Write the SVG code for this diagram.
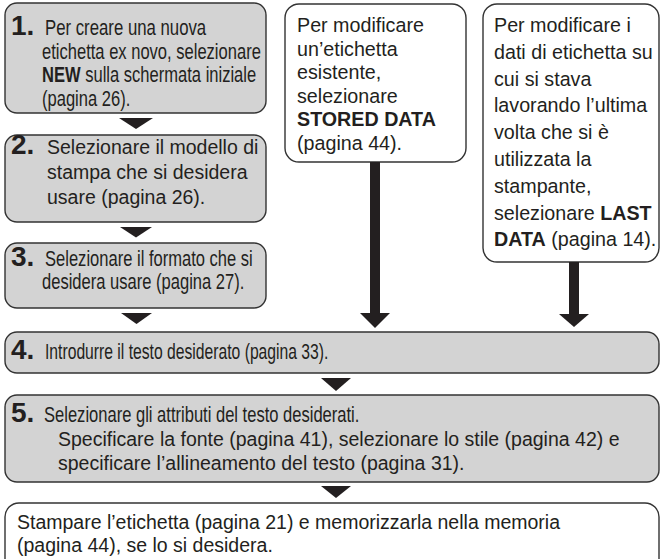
<svg xmlns="http://www.w3.org/2000/svg" width="661" height="559" viewBox="0 0 661 559">
<style>
.g{fill:#d3d3d3;stroke:#333;stroke-width:1.4}
.w{fill:#fff;stroke:#333;stroke-width:1.4}
text{font-family:"Liberation Sans",Arial,sans-serif;fill:#231f20}
.n{font-size:28px;font-weight:bold}
.c{font-size:21.5px}
.r{font-size:19.5px}
.t{font-size:19.7px}
.b{font-weight:bold}
.a{fill:#231f20}
</style>
<g id="step1">
<rect class="g" x="5" y="3" width="261" height="110" rx="12"/>
<text class="n" x="11" y="35">1.</text>
<text class="c" transform="translate(45,35) scale(0.78,1)">Per creare una nuova</text>
<text class="c" transform="translate(42,58.5) scale(0.77,1)">etichetta ex novo, selezionare</text>
<text class="c" transform="translate(42,82) scale(0.77,1)"><tspan class="b">NEW</tspan> sulla schermata iniziale</text>
<text class="c" transform="translate(42,105.5) scale(0.77,1)">(pagina 26).</text>
</g>
<g id="step2">
<rect class="g" x="5" y="135" width="261" height="87" rx="12"/>
<text class="n" x="11" y="154">2.</text>
<text class="r" x="47" y="154">Selezionare il modello di</text>
<text class="r" x="47" y="179">stampa che si desidera</text>
<text class="r" x="47" y="204">usare (pagina 26).</text>
</g>
<g id="step3">
<rect class="g" x="5" y="243" width="261" height="65" rx="12"/>
<text class="n" x="11" y="266">3.</text>
<text class="c" transform="translate(45,266) scale(0.77,1)">Selezionare il formato che si</text>
<text class="c" transform="translate(42,289) scale(0.77,1)">desidera usare (pagina 27).</text>
</g>
<g id="stored">
<rect class="w" x="285" y="4" width="181" height="158" rx="14"/>
<text class="t" x="297" y="32">Per modificare</text>
<text class="t" x="297" y="55.6">un’etichetta</text>
<text class="t" x="297" y="79.2">esistente,</text>
<text class="t" x="297" y="102.8">selezionare</text>
<text class="t b" x="297" y="126.4">STORED DATA</text>
<text class="t" x="297" y="150">(pagina 44).</text>
</g>
<g id="last">
<rect class="w" x="483" y="4" width="176" height="258" rx="14"/>
<text class="t" x="494" y="32">Per modificare i</text>
<text class="t" x="494" y="58.8">dati di etichetta su</text>
<text class="t" x="494" y="85.6">cui si stava</text>
<text class="t" x="494" y="112.4">lavorando l’ultima</text>
<text class="t" x="494" y="139.2">volta che si è</text>
<text class="t" x="494" y="166">utilizzata la</text>
<text class="t" x="494" y="192.8">stampante,</text>
<text class="t" x="494" y="219.6">selezionare <tspan class="b">LAST</tspan></text>
<text class="t" x="494" y="246.4"><tspan class="b">DATA</tspan> (pagina 14).</text>
</g>
<g id="step4">
<rect class="g" x="5" y="332" width="654" height="41" rx="12"/>
<text class="n" x="11" y="359">4.</text>
<text class="c" transform="translate(45,359) scale(0.73,1)">Introdurre il testo desiderato (pagina 33).</text>
</g>
<g id="step5">
<rect class="g" x="5" y="395" width="654" height="87" rx="12"/>
<text class="n" x="11" y="422">5.</text>
<text class="c" transform="translate(44,422) scale(0.77,1)">Selezionare gli attributi del testo desiderati.</text>
<text class="r" x="58" y="446">Specificare la fonte (pagina 41), selezionare lo stile (pagina 42) e</text>
<text class="r" x="58" y="470">specificare l’allineamento del testo (pagina 31).</text>
</g>
<g id="print">
<rect class="w" x="5" y="503" width="654" height="90" rx="14"/>
<text class="r" x="17" y="529">Stampare l’etichetta (pagina 21) e memorizzarla nella memoria</text>
<text class="r" x="17" y="552">(pagina 44), se lo si desidera.</text>
</g>
<g id="connectors">
<polygon class="a" points="119,118 153,118 136,129"/>
<polygon class="a" points="120,227 152,227 136,237.5"/>
<polygon class="a" points="121,313 152,313 136.5,324"/>
<rect class="a" x="370" y="162" width="10" height="153"/>
<polygon class="a" points="360,313 390,313 375,328"/>
<rect class="a" x="569" y="262" width="10" height="53"/>
<polygon class="a" points="559,314 589,314 574,327"/>
<polygon class="a" points="321,378 351,378 336,391"/>
<polygon class="a" points="321,486 351,486 336,498"/>
</g>
</svg>
